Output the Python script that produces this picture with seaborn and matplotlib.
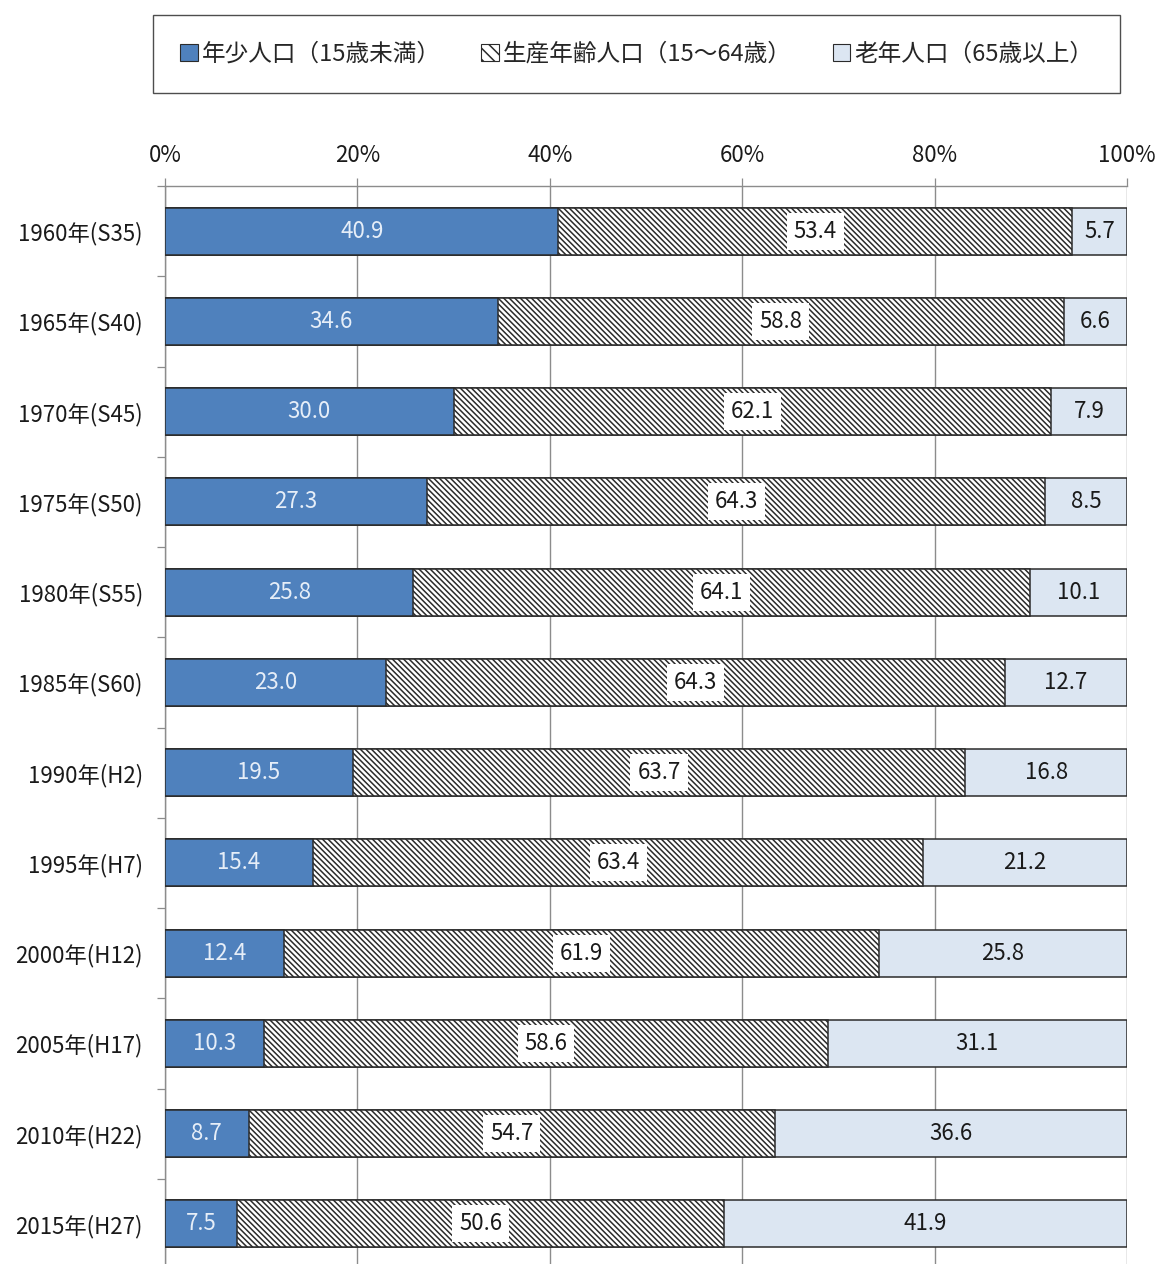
import numpy as np
import pandas as pd
import matplotlib
matplotlib.use("Agg")
import matplotlib.pyplot as plt
from matplotlib.patches import Patch
import seaborn as sns

# =============================================================================
# DONNÉES
# =============================================================================

annees = ["1960年(S35)", "1965年(S40)", "1970年(S45)", "1975年(S50)",
          "1980年(S55)", "1985年(S60)", "1990年(H2)", "1995年(H7)",
          "2000年(H12)", "2005年(H17)", "2010年(H22)", "2015年(H27)"]
nensho = [40.9, 34.6, 30.0, 27.3, 25.8, 23.0, 19.5, 15.4, 12.4, 10.3, 8.7, 7.5]
seisan = [53.4, 58.8, 62.1, 64.3, 64.1, 64.3, 63.7, 63.4, 61.9, 58.6, 54.7, 50.6]
rounen = [5.7, 6.6, 7.9, 8.5, 10.1, 12.7, 16.8, 21.2, 25.8, 31.1, 36.6, 41.9]
legendes = ["年少人口（15歳未満）", "生産年齢人口（15～64歳）", "老年人口（65歳以上）"]

# =============================================================================
# STYLE
# =============================================================================

sns.set_theme(style="white")
plt.rcParams["font.family"] = ["Noto Sans CJK JP", "DejaVu Sans"]
plt.rcParams["hatch.linewidth"] = 1.1
plt.rcParams["hatch.color"] = "#2b2b2b"

BLEU = "#4f81bd"
BLEU_CLAIR = "#dce6f2"
BORD = "#2b2b2b"
GRIS = "#8c8c8c"
TAILLE = 16
HACHURE = "\\" * 6

df = pd.DataFrame({"annee": annees, "nensho": nensho,
                   "seisan": seisan, "rounen": rounen})
total = df["nensho"] + df["seisan"] + df["rounen"]
df["c1"] = df["nensho"] / total * 100
df["c2"] = (df["nensho"] + df["seisan"]) / total * 100
df["c3"] = 100.0

fig = plt.figure(figsize=(11.59, 12.64), dpi=100)
ax = fig.add_axes([165 / 1159, 1 - 1269 / 1264, 962 / 1159, (1269 - 186) / 1264])

# barres superposées (cumul) -> rendu empilé
sns.barplot(data=df, x="c3", y="annee", color=BLEU_CLAIR, saturation=1,
            width=0.52, edgecolor=BORD, linewidth=1.1, ax=ax, zorder=3)
sns.barplot(data=df, x="c2", y="annee", color="white", saturation=1,
            width=0.52, edgecolor=BORD, linewidth=1.1, hatch=HACHURE,
            ax=ax, zorder=3)
sns.barplot(data=df, x="c1", y="annee", color=BLEU, saturation=1,
            width=0.52, edgecolor=BORD, linewidth=1.1, ax=ax, zorder=3)

# étiquettes de valeurs
for i, row in df.iterrows():
    ax.text(row["c1"] / 2, i, f"{row['nensho']:.1f}", ha="center", va="center",
            fontsize=TAILLE, color="#e6eef8", zorder=5)
    ax.text((row["c1"] + row["c2"]) / 2, i, f"{row['seisan']:.1f}", ha="center",
            va="center", fontsize=TAILLE, color="#1a1a1a", zorder=5,
            bbox=dict(facecolor="white", edgecolor="none", pad=5))
    ax.text((row["c2"] + 100) / 2, i, f"{row['rounen']:.1f}", ha="center",
            va="center", fontsize=TAILLE, color="#1a1a1a", zorder=5)

# axes
ax.set_xlim(0, 100)
ax.set_ylim(len(annees) - 0.5, -0.5)
ax.xaxis.tick_top()
ax.set_xticks(range(0, 101, 20))
ax.set_xticklabels([f"{v}%" for v in range(0, 101, 20)])
ax.set_xlabel("")
ax.set_ylabel("")
ax.grid(axis="x", color=GRIS, linewidth=1.0, zorder=0)
ax.set_axisbelow(True)

ax.set_yticks(np.arange(-0.5, len(annees), 1), minor=True)
ax.tick_params(axis="y", which="major", length=0, pad=16, labelsize=TAILLE,
               labelcolor="#1a1a1a")
ax.tick_params(axis="y", which="minor", length=6, width=0.9, color=GRIS,
               direction="out", left=True)
ax.tick_params(axis="x", which="major", length=6, width=0.9, color=GRIS,
               direction="out", top=True, bottom=False, pad=8,
               labelsize=TAILLE, labelcolor="#1a1a1a")

for cote in ["right", "bottom"]:
    ax.spines[cote].set_visible(False)
for cote in ["left", "top"]:
    ax.spines[cote].set_color(GRIS)
    ax.spines[cote].set_linewidth(1.0)

# légende
poignees = [Patch(facecolor=BLEU, edgecolor=BORD, linewidth=0.8),
            Patch(facecolor="white", edgecolor=BORD, linewidth=0.8, hatch="\\\\\\"),
            Patch(facecolor=BLEU_CLAIR, edgecolor=BORD, linewidth=0.8)]
leg = fig.legend(poignees, legendes, ncol=3, loc="center",
                 bbox_to_anchor=(153 / 1159, 1 - 95 / 1264, 967 / 1159, 82 / 1264),
                 mode="expand", fontsize=17, frameon=True, fancybox=False,
                 borderpad=1.15, handlelength=0.75, handleheight=0.75,
                 handletextpad=0.15, columnspacing=2.0, borderaxespad=0)
leg.get_frame().set_edgecolor("#222222")
leg.get_frame().set_linewidth(1.0)

plt.savefig("out.png", dpi=100)
plt.close()
